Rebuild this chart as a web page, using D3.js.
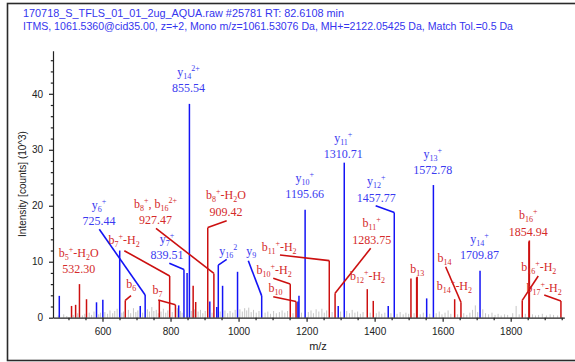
<!DOCTYPE html>
<html>
<head>
<meta charset="utf-8">
<script src="https://cdn.jsdelivr.net/npm/d3@7"></script>
<style>
  body { margin: 0; background: #fff; }
  svg { display: block; }
</style>
</head>
<body>
<svg id="chart" width="575" height="362"></svg>
<script>
// ---- header text ----
const titleLines = [
  "170718_S_TFLS_01_01_2ug_AQUA.raw  #25781  RT: 82.6108 min",
  "ITMS, 1061.5360@cid35.00, z=+2, Mono m/z=1061.53076 Da, MH+=2122.05425 Da, Match Tol.=0.5 Da"
];
const xTicks = [600, 800, 1000, 1200, 1400, 1600, 1800];
const yTicks = [0, 10, 20, 30, 40];

// ---- matched y-type peaks: m/z and intensity (10^3 counts) ----
const yIonMz  = [473, 582.4, 601, 650.6, 711, 725.44, 824, 839.51, 848.7, 855.54,
                 915.5, 936, 940.4, 953, 997, 1068, 1174.5, 1177.6, 1195.66, 1293,
                 1310.71, 1440, 1457.77, 1553, 1572.78, 1709.87];
const yIonInt = [3.9, 2.75, 3.2, 12.0, 2.1, 4.05, 2.2, 8.6, 8.0, 38.2,
                 2.9, 1.9, 9.4, 5.7, 8.2, 3.9, 2.9, 3.9, 19.3, 2.1,
                 27.7, 2.1, 18.8, 3.45, 23.7, 8.4];

// ---- matched b-type peaks ----
const bIonMz  = [509, 521, 532.30, 553, 667, 767, 797.5, 814.5, 866.5, 874,
                 909.42, 927.47, 1152, 1169, 1266.7, 1283.75, 1378.4, 1396, 1506.8, 1523.5,
                 1525, 1635.3, 1653.8, 1834, 1853.6, 1854.94, 1947.7];
const bIonInt = [2.1, 2.3, 6.0, 3.3, 3.1, 3.1, 7.45, 2.3, 5.7, 2.8,
                 16.1, 7.9, 6.0, 2.9, 10.2, 4.35, 5.1, 3.0, 7.0, 7.2,
                 7.3, 3.3, 2.75, 3.1, 13.6, 13.8, 3.0];

// ---- unassigned peaks ----
const noiseMz  = [470, 486, 495, 514, 527, 541, 548, 561, 568, 575, 589, 594, 607, 615, 622, 630, 636, 643,
                  657, 662, 676, 683, 691, 698, 704, 718, 732, 738, 745, 751, 758, 764, 772, 779, 786, 792,
                  805, 820, 829, 834, 861, 870, 881, 888, 895, 902, 922, 946, 960, 968, 975, 983, 990,
                  1004, 1011, 1018, 1024, 1030, 1037, 1044, 1052, 1060, 1078, 1086, 1094, 1103, 1111, 1120,
                  1128, 1136, 1144, 1160, 1185, 1205, 1213, 1220, 1228, 1236, 1245, 1252, 1259, 1275, 1300,
                  1318, 1326, 1334, 1342, 1350, 1358, 1366, 1387, 1405, 1413, 1421, 1430, 1448, 1466, 1475,
                  1484, 1492, 1500, 1516, 1534, 1543, 1562, 1581, 1590, 1598, 1607, 1616, 1624, 1644, 1662,
                  1671, 1680, 1688, 1696, 1703, 1718, 1726, 1735, 1745, 1754, 1763, 1772, 1782, 1791, 1806,
                  1816, 1825, 1843, 1864, 1873, 1882, 1893, 1905, 1916, 1926, 1938];
const noiseInt = [0.4, 0.6, 0.3, 0.5, 0.8, 0.4, 0.7, 0.9, 0.5, 1.1, 0.6, 0.9, 1.0, 0.7, 1.3, 0.8, 1.2, 1.6,
                  0.9, 1.1, 1.4, 0.8, 1.7, 1.0, 1.3, 0.9, 1.5, 1.1, 1.9, 1.2, 1.4, 0.8, 1.1, 1.6, 0.9, 1.3,
                  1.0, 1.7, 1.2, 0.9, 1.2, 1.5, 1.1, 1.4, 0.8, 1.2, 0.9, 1.1, 1.3, 0.8, 1.2, 0.9, 1.4,
                  1.5, 1.1, 1.7, 1.3, 1.8, 1.0, 1.4, 0.9, 1.2, 0.9, 1.1, 0.7, 1.2, 0.8, 1.0,
                  1.3, 0.9, 1.2, 0.8, 0.9, 1.0, 1.3, 0.8, 1.5, 1.1, 1.6, 0.9, 1.3, 1.0, 1.1,
                  1.2, 0.8, 1.4, 0.9, 1.1, 0.7, 1.0, 0.9, 0.8, 1.1, 0.7, 0.9, 0.8, 0.7, 1.0,
                  0.6, 0.9, 0.7, 0.8, 0.6, 0.9, 0.7, 0.8, 1.1, 0.6, 0.9, 1.3, 0.7, 0.6, 0.8,
                  0.5, 0.9, 1.4, 2.2, 1.0, 1.5, 0.8, 0.6, 0.9, 0.5, 0.7, 0.4, 0.6, 0.5, 0.8,
                  2.1, 0.6, 0.7, 0.6, 0.4, 0.5, 0.7, 0.4, 0.6, 0.5, 0.4];

// ---- fragment annotations ----
const annIons = [
  "y_{14}^{2+}", "y_{6}^{+}", "b_{8}^{+}, b_{16}^{2+}", "b_{8}^{+}-H_{2}O", "y_{7}^{+}",
  "b_{7}^{+}-H_{2}", "b_{5}^{+}-H_{2}O", "b_{6}", "b_{7}", "y_{16}^{2}",
  "y_{9}", "y_{10}^{+}", "b_{11}^{+}-H_{2}", "b_{10}^{+}-H_{2}", "b_{10}",
  "y_{11}^{+}", "y_{12}^{+}", "y_{13}^{+}", "b_{11}^{+}", "b_{12}^{+}-H_{2}",
  "b_{13}", "b_{14}", "b_{14}^{+}-H_{2}", "y_{14}^{+}", "b_{16}^{+}",
  "b_{16}^{+}-H_{2}", "b_{17}^{+}-H_{2}"
];
const annValues = [
  "855.54", "725.44", "927.47", "909.42", "839.51",
  "", "532.30", "", "", "",
  "", "1195.66", "", "", "",
  "1310.71", "1457.77", "1572.78", "1283.75", "",
  "", "", "", "1709.87", "1854.94",
  "", ""
];
const annSeries = [
  "y", "y", "b", "b", "y",
  "b", "b", "b", "b", "y",
  "y", "y", "b", "b", "b",
  "y", "y", "y", "b", "b",
  "b", "b", "b", "y", "b",
  "b", "b"
];
// m/z of the peak each annotation refers to
const annPeak = [
  855.54, 725.44, 927.47, 909.42, 839.51,
  797.5, 532.30, 667, 814.5, 940.4,
  1068, 1195.66, 1266.7, 1152, 1169,
  1310.71, 1457.77, 1572.78, 1283.75, 1378.4,
  1525, 1653.8, 1635.3, 1709.87, 1854.94,
  1834, 1947.7
];

// label placement in data units: [m/z of text centre, intensity of last baseline]
const annLabelAt = [
  [852.8, 40.24], [589.7, 16.56], [755.8, 16.69], [963.0, 18.22], [789.6, 10.43],
  [663.8, 13.08], [530.3, 7.93], [684.7, 5.22], [761.7, 4.23], [969.8, 11.29],
  [1037.4, 11.29], [1194.3, 21.33], [1119.4, 11.92], [1104.7, 7.81], [1108.5, 4.59],
  [1307.8, 28.47], [1404.9, 20.73], [1570.6, 25.67], [1391.3, 13.17], [1379, 6.74],
  [1525, 8.04], [1605.3, 10.0], [1634.7, 4.95], [1708.2, 10.43], [1851.6, 14.6],
  [1882.5, 8.4], [1898.3, 4.65]
];
// start of each leader line in data units (null = label sits over its peak)
const annLeaderFrom = [
  null, [590.6, 15.8], [757.3, 15.97], [965.1, 17.33], [796.4, 9.72],
  [664.1, 11.97], null, [683.8, 3.93], [764, 3.16], [965.1, 10.43],
  [1028.6, 10.18], null, [1121.7, 11.2], [1102, 7.04], [1102, 3.75],
  null, [1403.1, 20.01], null, [1388.4, 12.4], null,
  null, [1608.8, 9.11], null, null, null,
  [1881, 7.45], [1898.6, 4.06]
];

// ---- drawing ----
const svg = d3.select("#chart");
const SANS = "'Liberation Sans', Arial, sans-serif";
const SERIF = "'Liberation Serif', 'Times New Roman', serif";
const colors = {
  y: { peak: "#1414f5", text: "#3a3af0" },
  b: { peak: "#cc1010", text: "#d42a2a" }
};

const x = d3.scaleLinear().domain([454.5, 1957.6]).range([53, 564.3]);
const y = d3.scaleLinear().domain([0, 47.7]).range([317.7, 50.7]);

// outer frame
svg.append("rect")
  .attr("x", 7.5).attr("y", 3.5).attr("width", 580).attr("height", 357)
  .attr("fill", "none").attr("stroke", "#2a2a2a").attr("stroke-width", 1.6);

// header
svg.selectAll("text.title").data(titleLines).join("text")
  .attr("class", "title")
  .attr("x", 23).attr("y", (d, i) => 17 + i * 13)
  .attr("font-family", SANS).attr("font-size", 11)
  .attr("fill", "#3535ee")
  .attr("textLength", (d, i) => i === 0 ? 321 : 490)
  .attr("lengthAdjust", "spacingAndGlyphs")
  .text(d => d);

// peaks
const peakLayer = svg.append("g");
function drawPeaks(mz, inten, color, width) {
  peakLayer.append("g").selectAll("line").data(d3.zip(mz, inten)).join("line")
    .attr("x1", d => x(d[0])).attr("x2", d => x(d[0]))
    .attr("y1", y(0)).attr("y2", d => y(d[1]))
    .attr("stroke", color).attr("stroke-width", width);
}
drawPeaks(noiseMz, noiseInt, "#c6c6c6", 1);
drawPeaks(bIonMz, bIonInt, colors.b.peak, 1.5);
drawPeaks(yIonMz, yIonInt, colors.y.peak, 1.5);

// axes
const axisColor = "#222";
const xMinor = d3.range(500, 1951, 50).filter(v => !xTicks.includes(v));
const yMinor = d3.range(2, 47, 2).filter(v => !yTicks.includes(v));

svg.append("g").attr("transform", `translate(0,${y(0)})`)
  .call(d3.axisBottom(x).tickValues(xTicks).tickFormat(d3.format("d"))
    .tickSize(4).tickSizeOuter(0).tickPadding(6));
svg.append("g").attr("transform", `translate(0,${y(0)})`)
  .call(d3.axisBottom(x).tickValues(xMinor).tickSize(2.5).tickSizeOuter(0).tickFormat(""))
  .select(".domain").remove();
svg.append("g").attr("transform", `translate(${x.range()[0]},0)`)
  .call(d3.axisLeft(y).tickValues(yTicks).tickFormat(d3.format("d"))
    .tickSize(4).tickSizeOuter(0).tickPadding(6));
svg.append("g").attr("transform", `translate(${x.range()[0]},0)`)
  .call(d3.axisLeft(y).tickValues(yMinor).tickSize(2.2).tickSizeOuter(0).tickFormat(""))
  .select(".domain").remove();

svg.selectAll(".tick line, .domain").attr("stroke", axisColor).attr("stroke-width", 1.2);
svg.selectAll(".tick text").attr("font-family", SANS).attr("font-size", 10).attr("fill", "#222");

svg.append("text")
  .attr("x", 318).attr("y", 350).attr("text-anchor", "middle")
  .attr("font-family", SANS).attr("font-size", 11).attr("fill", "#222")
  .text("m/z");
svg.append("text")
  .attr("transform", "translate(25.5,184) rotate(-90)")
  .attr("text-anchor", "middle")
  .attr("font-family", SANS).attr("font-size", 10).attr("fill", "#222")
  .text("Intensity [counts] (10^3)");

// leader lines from label to the top of the annotated peak
function peakTop(series, mz) {
  const mzs = series === "y" ? yIonMz : bIonMz;
  const ints = series === "y" ? yIonInt : bIonInt;
  const i = mzs.indexOf(mz);
  return [mz, ints[i]];
}
const leaderLayer = svg.append("g");
annLeaderFrom.forEach((from, i) => {
  if (!from) return;
  const to = peakTop(annSeries[i], annPeak[i]);
  leaderLayer.append("line")
    .attr("x1", x(from[0])).attr("y1", y(from[1]))
    .attr("x2", x(to[0])).attr("y2", y(to[1]))
    .attr("stroke", colors[annSeries[i]].peak).attr("stroke-width", 1.6);
});

// ion names with sub/superscripts written as "b_{8}^{+}-H_{2}O"
function richText(sel, markup) {
  const re = /([_^])\{([^}]*)\}|([^_^]+)/g;
  let shift = 0, m;
  while ((m = re.exec(markup)) !== null) {
    let target, size, str;
    if (m[3] !== undefined) { target = 0; size = 12; str = m[3]; }
    else if (m[1] === "_") { target = 3; size = 8; str = m[2]; }
    else { target = -5; size = 8; str = m[2]; }
    sel.append("tspan")
      .attr("dy", target - shift)
      .attr("font-size", size)
      .text(str);
    shift = target;
  }
}

const labelLayer = svg.append("g").attr("font-family", SERIF).attr("text-anchor", "middle");
annIons.forEach((ion, i) => {
  const [lm, li] = annLabelAt[i];
  const cx = x(lm), base = y(li);
  const col = colors[annSeries[i]].text;
  const hasValue = annValues[i] !== "";
  const ionText = labelLayer.append("text")
    .attr("x", cx).attr("y", hasValue ? base - 16.5 : base)
    .attr("fill", col).attr("font-size", 12)
    .style("white-space", "pre");
  richText(ionText, ion);
  if (hasValue) {
    labelLayer.append("text")
      .attr("x", cx).attr("y", base)
      .attr("fill", col).attr("font-size", 12)
      .text(annValues[i]);
  }
});
</script>
</body>
</html>
